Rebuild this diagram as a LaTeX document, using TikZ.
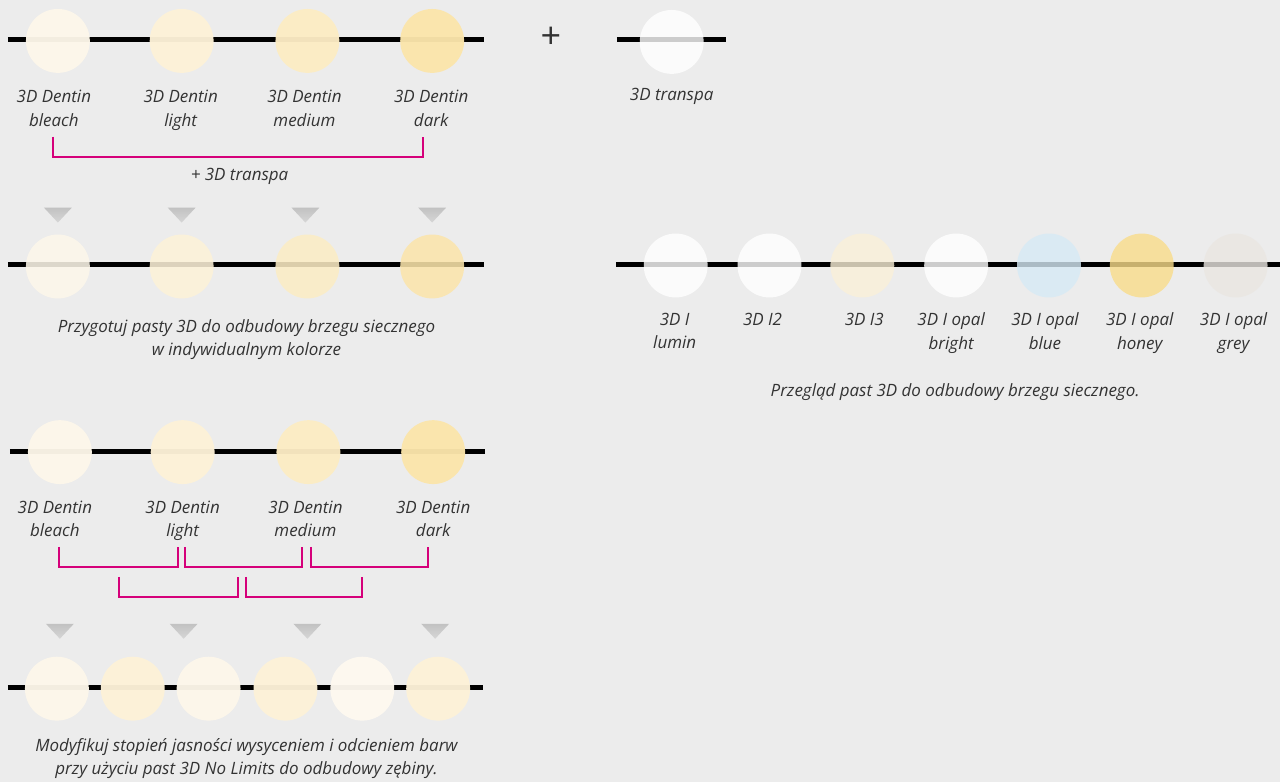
\documentclass[tikz,border=0pt]{standalone}
\usepackage{fontspec}
\setmainfont{Open Sans}
\definecolor{bg}{HTML}{ECECEC}
\definecolor{txt}{HTML}{333333}
\definecolor{brk}{HTML}{D5007A}
\definecolor{bleach}{HTML}{FDF7EA}
\definecolor{light}{HTML}{FDF2D8}
\definecolor{medium}{HTML}{FCECC4}
\definecolor{dark}{HTML}{FBE5AB}
\definecolor{transpa}{HTML}{FFFFFF}
\definecolor{inci}{HTML}{FAF0D8}
\definecolor{opblue}{HTML}{D6EAF5}
\definecolor{ophoney}{HTML}{F9DC8A}
\definecolor{opgrey}{HTML}{EAE6E1}
\tikzset{
  bar/.style={line width=5pt},
  dot/.style={circle, minimum size=64pt, inner sep=0pt, draw=none},
  lbl/.style={text=txt, align=center, font=\fontsize{17}{23.5}\selectfont\itshape},
  toplbl/.style={lbl, anchor=north},
  bracket/.style={draw=brk, line width=2pt},
  tri/.style={top color=black!24, bottom color=black!16, draw=none}
}
\begin{document}
\begin{tikzpicture}[x=1pt,y=-1pt]
    \fill[bg] (0,0) rectangle (1282,784);

    % row 1
    \draw[bar] (8,40) to (485,40);
        \node[dot, fill=bleach, fill opacity=.96] (a1) at (58,41) {};
        \node[dot, fill=light, fill opacity=.96] (a2) at (182,41) {};
        \node[dot, fill=medium, fill opacity=.96] (a3) at (308,41) {};
        \node[dot, fill=dark, fill opacity=.96] (a4) at (433,41) {};
    \node[toplbl] (la1) at (54,87) {3D Dentin\\bleach};
    \node[toplbl] (la2) at (181,87) {3D Dentin\\light};
    \node[toplbl] (la3) at (305,87) {3D Dentin\\medium};
    \node[toplbl] (la4) at (432,87) {3D Dentin\\dark};
    \draw[bracket] (53,137) -- (53,157) -- (424,157) -- (424,137);
    \node[lbl] (plus) at (240,177) {+ 3D transpa};

    \node[text=txt, font=\fontsize{36}{36}\selectfont] (pl) at (552,38) {+};
    \draw[bar] (618,40) to (727,40);
        \node[dot, fill=transpa, fill opacity=.8] (t) at (673,42) {};
    \node[lbl] (lt) at (673,97) {3D transpa};

    % row 2
    \shade[tri] (44,208) -- (72,208) -- (58,223) -- cycle;
    \shade[tri] (168,208) -- (196,208) -- (182,223) -- cycle;
    \shade[tri] (292,208) -- (320,208) -- (306,223) -- cycle;
    \shade[tri] (419,208) -- (447,208) -- (433,223) -- cycle;
    \draw[bar] (8,265) to (485,265);
        \node[dot, fill=bleach, fill opacity=.87] (b1) at (58,267) {};
        \node[dot, fill=light, fill opacity=.87] (b2) at (182,267) {};
        \node[dot, fill=medium, fill opacity=.87] (b3) at (308,267) {};
        \node[dot, fill=dark, fill opacity=.87] (b4) at (433,267) {};
    \node[lbl] (lb) at (247,340) {Przygotuj pasty 3D do odbudowy brzegu siecznego\\w indywidualnym kolorze};

    % incisal row
    \draw[bar] (617,265) to (1282,265);
        \node[dot, fill=transpa, fill opacity=.8] (i1) at (677,266) {};
        \node[dot, fill=transpa, fill opacity=.8] (i2) at (771,266) {};
        \node[dot, fill=inci, fill opacity=.8] (i3) at (864,266) {};
        \node[dot, fill=transpa, fill opacity=.8] (i4) at (958,266) {};
        \node[dot, fill=opblue, fill opacity=.8] (i5) at (1051,266) {};
        \node[dot, fill=ophoney, fill opacity=.8] (i6) at (1144,266) {};
        \node[dot, fill=opgrey, fill opacity=.8] (i7) at (1238,266) {};
    \node[toplbl] (li1) at (676,310) {3D I\\lumin};
    \node[toplbl] (li2) at (764,310) {3D I2};
    \node[toplbl] (li3) at (866,310) {3D I3};
    \node[toplbl] (li4) at (953,310) {3D I opal\\bright};
    \node[toplbl] (li5) at (1047,310) {3D I opal\\blue};
    \node[toplbl] (li6) at (1142,310) {3D I opal\\honey};
    \node[toplbl] (li7) at (1236,310) {3D I opal\\grey};
    \node[lbl] (lc) at (957,393) {Przegląd past 3D do odbudowy brzegu siecznego.};

    % row 3
    \draw[bar] (10,452) to (486,452);
        \node[dot, fill=bleach, fill opacity=.96] (c1) at (60,453) {};
        \node[dot, fill=light, fill opacity=.96] (c2) at (183,453) {};
        \node[dot, fill=medium, fill opacity=.96] (c3) at (309,453) {};
        \node[dot, fill=dark, fill opacity=.96] (c4) at (434,453) {};
    \node[toplbl] (lc1) at (55,498) {3D Dentin\\bleach};
    \node[toplbl] (lc2) at (183,498) {3D Dentin\\light};
    \node[toplbl] (lc3) at (306,498) {3D Dentin\\medium};
    \node[toplbl] (lc4) at (434,498) {3D Dentin\\dark};
    \draw[bracket] (59,548) -- (59,568) -- (178,568) -- (178,548);
    \draw[bracket] (185,548) -- (185,568) -- (303,568) -- (303,548);
    \draw[bracket] (312,548) -- (312,568) -- (429,568) -- (429,548);
    \draw[bracket] (119,578) -- (119,598) -- (238,598) -- (238,578);
    \draw[bracket] (246,578) -- (246,598) -- (363,598) -- (363,578);

    % row 4
    \shade[tri] (46,625) -- (74,625) -- (60,640) -- cycle;
    \shade[tri] (170,625) -- (198,625) -- (184,640) -- cycle;
    \shade[tri] (294,625) -- (322,625) -- (308,640) -- cycle;
    \shade[tri] (422,625) -- (450,625) -- (436,640) -- cycle;
    \draw[bar] (8,689) to (484,689);
        \node[dot, fill=bleach, fill opacity=.96] (d1) at (57,690) {};
        \node[dot, fill=light, fill opacity=.96] (d2) at (133,690) {};
        \node[dot, fill=bleach, fill opacity=.96] (d3) at (209,690) {};
        \node[dot, fill=light, fill opacity=.96] (d4) at (286,690) {};
        \node[dot, fill=bleach!70!white, fill opacity=.96] (d5) at (363,690) {};
        \node[dot, fill=light, fill opacity=.96] (d6) at (439,690) {};
    \node[lbl] (ld) at (247,760) {Modyfikuj stopień jasności wysyceniem i odcieniem barw\\przy użyciu past 3D No Limits do odbudowy zębiny.};
\end{tikzpicture}
\end{document}
